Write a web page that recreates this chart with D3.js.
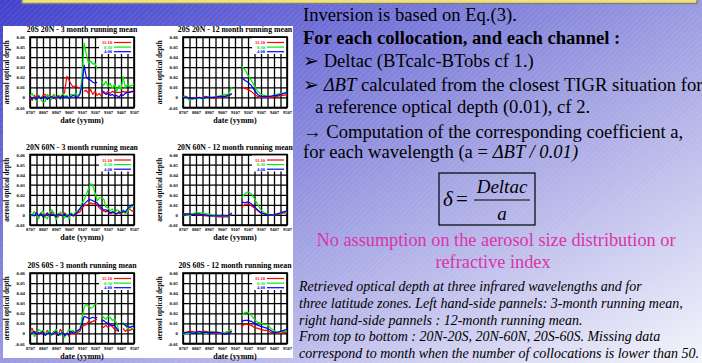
<!DOCTYPE html>
<html><head><meta charset="utf-8">
<script src="https://cdn.jsdelivr.net/npm/d3@7/dist/d3.min.js"></script>
<style>
html,body{margin:0;padding:0;overflow:hidden;background:#fff;}
svg{display:block;}
svg text{font-family:"Liberation Serif","Times New Roman","DejaVu Serif",serif;}
</style></head>
<body>
<svg id="c" width="702" height="363"></svg>
<script>
// ---------- DATA ----------
// 3-month running mean charts: samples every 2 months, 8707 .. 9507
const datesA = ["8707","8709","8711","8801","8803","8805","8807","8809","8811","8901","8903","8905","8907","8909","8911","9001","9003","9005","9007","9009","9011","9101","9103","9105","9107","9109","9111","9201","9203","9205","9207","9209","9211","9301","9303","9305","9307","9309","9311","9401","9403","9405","9407","9409","9411","9501","9503","9505","9507"];
// 12-month running mean charts: samples every 3 months
const datesB = ["8707","8710","8801","8804","8807","8810","8901","8904","8907","8910","9001","9004","9007","9010","9101","9104","9107","9110","9201","9204","9207","9210","9301","9304","9307","9310","9401","9404","9407","9410","9501","9504","9507"];
const xTickLabels = ["8707","8807","8907","9007","9107","9207","9307","9407","9507"];
const yTickValues = [-0.01, 0, 0.01, 0.02, 0.03, 0.04, 0.05, 0.06];
const channels = ["11.10", "8.30", "4.00"];
const titles = ["20S 20N - 3 month running mean","20S 20N - 12 month running mean","20N 60N - 3 month running mean","20N 60N - 12 month running mean","20S 60S - 3 month running mean","20S 60S - 12 month running mean"];

// 20S-20N, 3-month
const trop3_r = [0.000,-0.003,0.002,0.000,0.002,-0.001,0.002,0.003,0.001,0.002,-0.001,0.003,-0.002,0.002,0.001,0.002,0.005,0.021,0.017,0.013,0.010,0.012,0.010,0.009,null,0.006,0.007,0.004,0.008,0.003,0.006,0.002,0.004,0.001,0.006,0.004,0.006,0.004,0.006,0.005,0.005,0.005,0.005,0.006,0.005,0.006,0.005,0.006,0.005];
const trop3_g = [0.002,0.004,-0.001,-0.003,0.002,-0.002,-0.005,-0.004,0.003,0.001,-0.002,0.003,0.000,0.002,-0.002,0.004,0.001,0.002,-0.001,0.003,0.002,0.004,0.002,0.004,0.020,0.054,0.043,0.034,0.036,0.033,0.034,0.028,null,0.016,0.012,0.016,0.011,0.014,0.009,0.013,0.006,0.012,0.008,0.021,0.010,0.013,0.011,0.012,0.013];
const trop3_b = [0.001,-0.001,0.000,-0.002,0.001,-0.001,0.000,0.001,-0.002,0.000,0.001,-0.001,0.000,0.001,-0.001,0.002,0.000,0.001,-0.001,0.001,0.002,0.001,0.000,0.003,0.012,0.032,0.020,0.018,0.017,0.015,0.014,0.015,null,0.007,0.005,0.003,0.004,0.002,0.003,0.001,0.002,0.000,0.003,0.002,0.004,0.005,0.005,0.006,0.006];
// 20S-20N, 12-month
const trop12_r = [0.001,0.001,-0.001,-0.001,0.000,-0.001,0.000,0.001,0.000,-0.001,-0.001,0.000,0.001,0.001,0.002,0.003,null,null,0.011,0.009,0.008,0.006,0.003,0.001,0.000,0.001,0.000,0.000,0.001,0.001,0.002,0.002,0.003];
const trop12_g = [0.001,0.000,-0.003,-0.002,-0.001,-0.001,0.000,-0.001,0.000,0.000,0.001,0.001,0.002,0.003,0.003,0.010,null,null,0.031,0.028,0.022,0.017,0.011,0.006,0.003,0.002,0.001,0.001,0.002,0.003,0.004,0.004,0.005];
const trop12_b = [0.000,0.000,-0.001,-0.001,-0.001,0.000,-0.001,0.000,0.000,0.000,0.000,0.001,0.001,0.001,0.002,0.004,null,null,0.020,0.017,0.015,0.012,0.007,0.003,0.001,0.001,0.001,0.001,0.002,0.002,0.003,0.004,0.005];
// 20N-60N, 3-month
const nh3_r = [0.001,0.000,0.003,0.001,-0.001,0.002,0.000,-0.002,0.001,-0.001,0.003,0.001,0.000,-0.002,0.001,-0.001,0.002,0.000,-0.001,0.001,-0.001,0.000,0.002,0.003,0.007,0.009,0.010,0.010,0.012,0.011,0.011,0.010,0.007,0.005,0.004,0.003,0.004,0.001,0.002,0.003,0.001,0.002,0.001,0.003,0.002,0.004,0.006,0.004,0.003];
const nh3_g = [0.002,-0.001,0.003,0.001,-0.004,0.002,0.004,-0.002,-0.004,0.002,0.005,0.002,-0.005,0.000,0.003,0.001,-0.003,0.001,-0.004,0.002,0.000,0.003,0.004,0.006,0.012,0.015,0.020,0.026,0.031,0.029,0.022,0.014,0.017,0.017,0.016,0.008,0.007,0.004,0.006,0.001,0.005,0.004,0.002,0.005,0.001,0.004,0.007,0.008,0.009];
const nh3_b = [0.001,0.000,-0.001,0.002,-0.001,0.001,-0.002,0.000,0.002,-0.001,0.001,0.000,-0.002,0.001,0.000,-0.001,0.001,-0.002,0.000,0.001,-0.001,0.001,0.003,0.006,0.009,0.011,0.013,0.015,0.015,0.014,0.013,0.012,0.009,0.007,0.005,0.005,0.004,0.002,0.003,0.002,0.001,0.003,0.002,0.004,0.003,0.006,0.008,0.010,0.010];
// 20N-60N, 12-month
const nh12_r = [0.001,0.001,0.000,0.001,0.000,0.000,0.000,-0.001,-0.001,-0.001,-0.001,-0.002,-0.002,-0.002,-0.002,0.001,null,null,0.008,0.010,0.011,0.009,0.007,0.004,0.002,0.001,0.000,0.000,0.000,0.000,0.001,0.002,0.002];
const nh12_g = [0.000,0.000,-0.001,0.001,0.003,0.002,0.002,0.001,0.001,0.000,-0.001,-0.001,-0.001,-0.001,-0.001,0.001,null,null,0.017,0.021,0.023,0.021,0.016,0.010,0.005,0.002,0.001,0.000,0.000,0.001,0.001,0.003,0.003];
const nh12_b = [0.000,0.001,0.001,0.000,0.001,0.001,0.000,0.000,-0.001,-0.001,-0.001,-0.001,-0.001,-0.001,-0.001,0.002,null,null,0.013,0.012,0.013,0.011,0.008,0.005,0.002,0.001,0.000,0.000,0.000,0.001,0.002,0.003,0.004];
// 20S-60S, 3-month
const sh3_r = [0.002,0.005,0.000,0.002,-0.001,0.001,0.002,-0.001,0.003,0.001,-0.001,0.002,0.000,-0.002,0.004,0.001,-0.002,0.000,-0.003,0.001,0.002,-0.001,0.001,0.002,0.007,0.008,0.009,0.012,0.011,0.012,0.013,0.014,null,0.007,0.006,0.008,0.006,0.008,0.007,0.004,0.003,0.002,null,0.005,0.002,0.004,0.003,0.004,0.005];
const sh3_g = [0.000,0.002,-0.003,-0.001,0.004,0.002,0.003,-0.001,0.001,0.003,-0.002,0.001,0.004,0.000,-0.002,0.002,-0.004,0.000,0.004,0.002,0.003,0.001,0.002,0.004,0.015,0.026,0.029,0.027,0.025,0.026,0.029,0.030,null,0.018,0.016,0.014,0.017,0.016,0.013,0.014,0.010,0.003,null,0.011,0.008,0.005,0.006,0.005,0.005];
const sh3_b = [0.001,0.000,0.002,-0.001,0.001,0.000,0.002,-0.002,0.000,0.001,-0.001,0.000,0.002,-0.002,0.000,0.001,-0.002,0.000,-0.001,0.002,0.000,0.001,0.003,0.004,0.010,0.017,0.016,0.015,0.015,0.016,0.015,0.016,null,0.012,0.013,0.011,0.010,0.009,0.008,0.008,0.005,0.002,null,0.010,0.008,0.007,0.006,0.007,0.007];
// 20S-60S, 12-month
const sh12_r = [0.001,0.001,0.002,0.002,0.001,0.001,0.002,0.002,0.001,0.001,0.000,0.000,0.000,0.001,0.001,0.002,null,null,0.007,0.009,0.009,0.008,0.006,0.005,0.004,0.003,0.003,0.001,0.001,0.000,0.000,0.001,0.001];
const sh12_g = [-0.001,0.000,0.000,0.001,0.001,0.001,0.001,0.000,0.001,0.002,0.001,0.001,0.000,0.001,0.002,0.004,null,null,0.017,0.021,0.021,0.018,0.014,0.011,0.010,0.009,0.009,0.005,0.003,0.001,0.001,0.002,0.002];
const sh12_b = [0.000,0.001,0.001,0.000,0.001,0.002,0.001,0.001,0.001,0.001,0.001,0.001,0.000,-0.001,0.000,0.002,null,null,0.012,0.013,0.013,0.012,0.010,0.008,0.007,0.006,0.005,0.003,0.001,0.001,0.002,0.003,0.004];

// ---------- LAYOUT ----------
const svg = d3.select("#c");
const W = 702, H = 363;
const defs = svg.append("defs");
const bg = defs.append("linearGradient").attr("id","bg").attr("x1",0).attr("y1",0).attr("x2",1).attr("y2",1);
bg.append("stop").attr("offset",0).attr("stop-color","#4040ce");
bg.append("stop").attr("offset",0.45).attr("stop-color","#9090de");
bg.append("stop").attr("offset",1).attr("stop-color","#f4f4fc");
const pat = defs.append("pattern").attr("id","stripes").attr("patternUnits","userSpaceOnUse")
  .attr("width",4).attr("height",4).attr("patternTransform","rotate(45)");
pat.append("line").attr("x1",0).attr("y1",0).attr("x2",0).attr("y2",4)
  .attr("stroke","#ffffff").attr("stroke-width",1).attr("stroke-opacity",0.18);

svg.append("rect").attr("width",W).attr("height",H).attr("fill","url(#bg)");
svg.append("rect").attr("width",W).attr("height",H).attr("fill","url(#stripes)");

// top header bar
svg.append("rect").attr("x",22).attr("y",-6).attr("width",675).attr("height",9.5)
  .attr("fill","#efe27a").attr("stroke","#808080").attr("stroke-width",1.5);

// white panel behind charts
svg.append("rect").attr("x",3).attr("y",26).attr("width",290).attr("height",332).attr("fill","#ffffff");

const colors = ["#ff0000","#00ee00","#0000ff"];
const panels = [
  {title: titles[0], dates: datesA, series: [trop3_r, trop3_g, trop3_b], left: 30, top: 37},
  {title: titles[1], dates: datesB, series: [trop12_r, trop12_g, trop12_b], left: 183, top: 37},
  {title: titles[2], dates: datesA, series: [nh3_r, nh3_g, nh3_b], left: 30, top: 154.5},
  {title: titles[3], dates: datesB, series: [nh12_r, nh12_g, nh12_b], left: 183, top: 154.5},
  {title: titles[4], dates: datesA, series: [sh3_r, sh3_g, sh3_b], left: 30, top: 273},
  {title: titles[5], dates: datesB, series: [sh12_r, sh12_g, sh12_b], left: 183, top: 273}
];
const PW = 104, PH = 70.5;
const monthIndex = s => (+s.slice(0,2) - 87) * 12 + (+s.slice(2,4) - 7);

panels.forEach((p, i) => {
  const g = svg.append("g").attr("transform", `translate(${p.left},${p.top})`);
  const x = d3.scaleLinear().domain([0, 96]).range([0, PW]);
  const y = d3.scaleLinear().domain([-0.01, 0.06]).range([PH, 0]);

  // grid
  const gx = d3.axisBottom(x).tickValues(d3.range(0, 97, 6)).tickSize(-PH).tickFormat("");
  g.append("g").attr("transform",`translate(0,${PH})`).call(gx)
    .call(s => { s.select(".domain").remove(); s.selectAll("line").attr("stroke","#000").attr("stroke-width",1.3); });
  const gy = d3.axisLeft(y).tickValues(yTickValues).tickSize(-PW).tickFormat("");
  g.append("g").call(gy)
    .call(s => { s.select(".domain").remove(); s.selectAll("line").attr("stroke","#000").attr("stroke-width",1.3); });
  g.append("rect").attr("width",PW).attr("height",PH).attr("fill","none").attr("stroke","#000").attr("stroke-width",1.6);

  // tick labels
  const ax = d3.axisBottom(x).tickValues(xTickLabels.map(monthIndex)).tickSize(0).tickPadding(3)
    .tickFormat((d, k) => xTickLabels[k]);
  g.append("g").attr("transform",`translate(0,${PH})`).call(ax)
    .call(s => { s.select(".domain").remove();
      s.selectAll("text").attr("font-family",null).attr("font-weight","bold").attr("font-size",4.6).attr("fill","#000"); });
  const ay = d3.axisLeft(y).tickValues(yTickValues).tickSize(0).tickPadding(5)
    .tickFormat(d => d === 0 ? "0" : d.toFixed(2));
  g.append("g").call(ay)
    .call(s => { s.select(".domain").remove();
      s.selectAll("text").attr("font-family",null).attr("font-weight","bold").attr("font-size",4.8).attr("fill","#000"); });

  // titles & axis labels
  g.append("text").attr("x", PW/2).attr("y", -5).attr("text-anchor","middle")
    .attr("font-weight","bold").attr("font-size",7.8).text(p.title);
  g.append("text").attr("x", PW/2).attr("y", PH + 15).attr("text-anchor","middle")
    .attr("font-weight","bold").attr("font-size",8).text("date (yymm)");
  g.append("text").attr("transform",`translate(-21,${PH/2}) rotate(-90)`).attr("text-anchor","middle")
    .attr("font-weight","bold").attr("font-size",7.2).text("aerosol optical depth");

  // lines
  const clipId = "clip" + i;
  defs.append("clipPath").attr("id", clipId).append("rect").attr("width",PW).attr("height",PH);
  const line = d3.line().defined(d => d.v !== null).x(d => x(d.m)).y(d => y(d.v));
  p.series.forEach((vals, k) => {
    const pts = p.dates.map((d, j) => ({m: monthIndex(d), v: vals[j]}));
    g.append("path").attr("clip-path",`url(#${clipId})`).attr("d", line(pts))
      .attr("fill","none").attr("stroke", colors[k]).attr("stroke-width",1.2).attr("stroke-linejoin","round");
  });

  // legend
  const lg = g.append("g").attr("transform",`translate(${PW-35},1)`);
  lg.append("rect").attr("width",34).attr("height",16).attr("fill","#fff");
  channels.forEach((c, k) => {
    const yy = 4.5 + k * 4.6;
    lg.append("text").attr("x",13).attr("y",yy+1.6).attr("text-anchor","end")
      .attr("font-weight","bold").attr("font-size",4.6).attr("fill",colors[k]).text(c);
    lg.append("line").attr("x1",15).attr("x2",32).attr("y1",yy).attr("y2",yy)
      .attr("stroke",colors[k]).attr("stroke-width",1.2);
  });
});

// ---------- RIGHT TEXT ----------
const FS = 18.6;
const T = svg.append("g").attr("fill","#000");
T.append("text").attr("x",303).attr("y",21).attr("font-size",FS).text("Inversion is based on Eq.(3).");
T.append("text").attr("x",303).attr("y",43.5).attr("font-size",FS).attr("font-weight","bold").text("For each collocation, and each channel :");
T.append("text").attr("x",303).attr("y",67).attr("font-size",FS).text("\u27A2 Deltac (BTcalc-BTobs cf 1.)");
const t4 = T.append("text").attr("x",303).attr("y",90.5).attr("font-size",FS);
t4.append("tspan").text("\u27A2 ");
t4.append("tspan").attr("font-style","italic").text("\u0394BT");
t4.append("tspan").text(" calculated from the closest TIGR situation for");
T.append("text").attr("x",315).attr("y",112.5).attr("font-size",FS).text("a reference optical depth (0.01), cf 2.");
T.append("text").attr("x",303).attr("y",138).attr("font-size",FS).text("\u2192 Computation of the corresponding coefficient a,");
const t7 = T.append("text").attr("x",303).attr("y",157.5).attr("font-size",FS);
t7.append("tspan").text("for each wavelength (a = ");
t7.append("tspan").attr("font-style","italic").text("\u0394BT / 0.01)");

// formula box
T.append("rect").attr("x",439).attr("y",173).attr("width",96).attr("height",52)
  .attr("fill","none").attr("stroke","#000").attr("stroke-width",1.2);
T.append("text").attr("x",443).attr("y",205.5).attr("font-size",21).attr("font-style","italic").text("\u03B4");
T.append("text").attr("x",456).attr("y",205.5).attr("font-size",21).text("=");
T.append("line").attr("x1",474).attr("x2",530).attr("y1",200).attr("y2",200).attr("stroke","#000").attr("stroke-width",1);
T.append("text").attr("x",502).attr("y",193).attr("font-size",19).attr("font-style","italic").attr("text-anchor","middle").text("Deltac");
T.append("text").attr("x",502).attr("y",220).attr("font-size",19).attr("font-style","italic").attr("text-anchor","middle").text("a");

T.append("text").attr("x",496).attr("y",246).attr("font-size",18.3).attr("fill","#dd33aa").attr("text-anchor","middle")
  .text("No assumption on the aerosol size distribution or");
T.append("text").attr("x",493).attr("y",268).attr("font-size",18.3).attr("fill","#dd33aa").attr("text-anchor","middle")
  .text("refractive index");

const caption = [
  "Retrieved optical depth at three infrared wavelengths and for",
  "three latitude zones. Left hand-side pannels: 3-month running mean,",
  "right hand-side pannels : 12-month running mean.",
  "From top to bottom : 20N-20S, 20N-60N, 20S-60S. Missing data",
  "correspond to month when the number of collocations is lower than 50."
];
caption.forEach((c, k) => {
  T.append("text").attr("x",299).attr("y",291 + k * 16.8).attr("font-size",14).attr("font-style","italic").text(c);
});
</script>
</body></html>
